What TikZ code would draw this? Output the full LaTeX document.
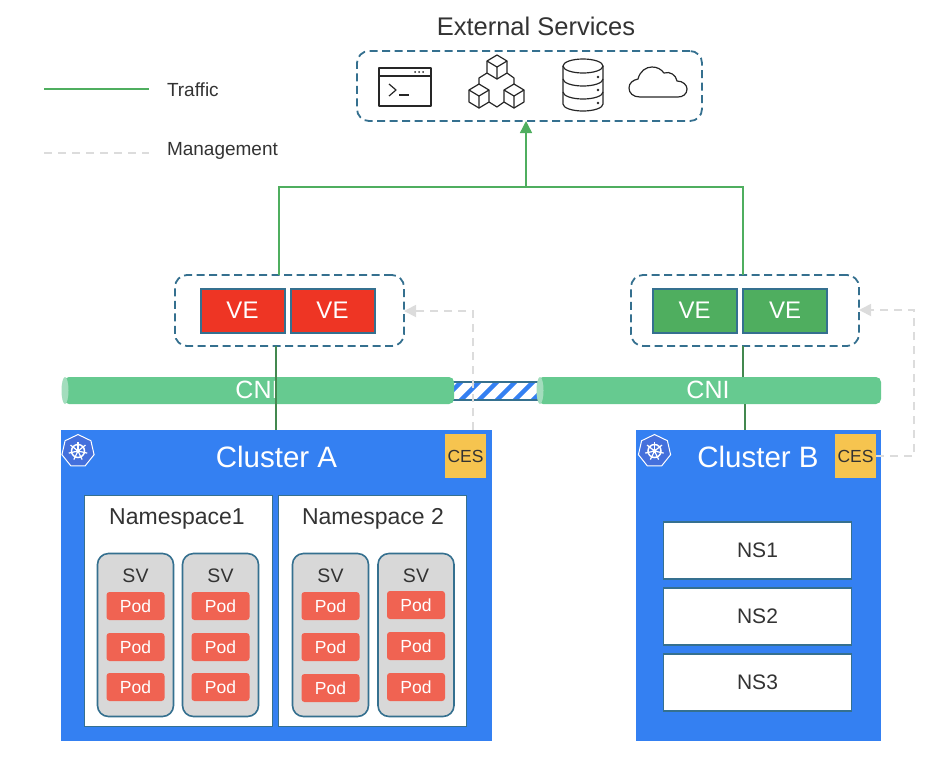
\documentclass[tikz,border=0pt]{standalone}
\usepackage{fontspec}
\setmainfont{Liberation Sans}
\usetikzlibrary{arrows.meta,shapes.geometric}
\definecolor{edgeblue}{HTML}{35708F}
\definecolor{clusterblue}{HTML}{3480F2}
\definecolor{kubeblue}{HTML}{4470DC}
\definecolor{trafficgreen}{HTML}{4FAE5F}
\definecolor{darkgreen}{HTML}{43884F}
\definecolor{cnigreen}{HTML}{66CA90}
\definecolor{capgreen}{HTML}{A3DDBD}
\definecolor{mgmtgrey}{HTML}{DCDCDC}
\definecolor{vered}{HTML}{EE3524}
\definecolor{podred}{HTML}{F06352}
\definecolor{cesyellow}{HTML}{F6C44F}
\definecolor{svgrey}{HTML}{D8D8D8}
\definecolor{textgrey}{HTML}{333333}
\tikzset{
	every node/.style={inner sep=0pt,outer sep=0pt,text=textgrey},
	groupbox/.style={draw=edgeblue,line width=1.8pt,dash pattern=on 8pt off 4.5pt,rounded corners=12pt},
	vebox/.style={draw=edgeblue,line width=2pt,minimum width=84pt,minimum height=44pt,text=white,font=\fontsize{24}{24}\selectfont},
	cluster/.style={fill=clusterblue,minimum height=311pt},
	clustertitle/.style={text=white,font=\fontsize{29.5}{30}\selectfont},
	cesbox/.style={fill=cesyellow,minimum width=41pt,minimum height=44pt,font=\fontsize{17.5}{18}\selectfont},
	nsbox/.style={fill=white,draw=edgeblue,line width=1.8pt,minimum width=188pt,font=\fontsize{21}{21}\selectfont},
	svbox/.style={fill=svgrey,draw=edgeblue,line width=1.6pt,rounded corners=11pt,minimum width=76pt,minimum height=163pt},
	podbox/.style={fill=podred,rounded corners=3pt,minimum width=58pt,minimum height=28pt,text=white,font=\fontsize{17.5}{18}\selectfont},
	cnibar/.style={fill=cnigreen,rounded corners=5pt,minimum height=27pt},
	cnicap/.style={fill=capgreen,shape=ellipse,minimum width=7pt,minimum height=27pt},
	traffic/.style={draw=trafficgreen,line width=1.4pt},
	mgmt/.style={draw=mgmtgrey,line width=1.8pt,dash pattern=on 8pt off 6pt},
	icon/.style={draw=black!85,line width=1.2pt,line join=round},
}
\newcommand{\cubeicon}[2]{% isometric cube
	\draw[icon] (#1,#2-12) -- (#1+10,#2-6) -- (#1+10,#2+6) -- (#1,#2+12) -- (#1-10,#2+6) -- (#1-10,#2-6) -- cycle;
	\draw[icon] (#1-10,#2-6) -- (#1,#2) -- (#1+10,#2-6) (#1,#2) -- (#1,#2+12);
}
\newcommand{\kubeicon}[3]{% wheel on a heptagon
	\node[regular polygon,regular polygon sides=7,draw=white,line width=1pt,fill=kubeblue,minimum size=33pt] (#1) at (#2,#3) {};
	\draw[white,line width=1.5pt] (#1.center) circle (6.5pt);
	\fill[white] (#1.center) circle (2pt);
	\foreach \a in {90,141.4,...,400} {\draw[white,line width=1.2pt] (#1.center) -- +(\a:9.5pt);}
}

\begin{document}
\begin{tikzpicture}[x=1pt,y=-1pt]
	\useasboundingbox (0,0) rectangle (928,764);

	% legend
	\coordinate (trafficA) at (44,89);
	\coordinate (trafficB) at (149,89);
	\coordinate (mgmtA) at (44,153);
	\coordinate (mgmtB) at (149,153);
	\draw[traffic] (trafficA) -- (trafficB);
	\draw[mgmt] (mgmtA) -- (mgmtB);
	\node[anchor=west,font=\fontsize{19}{19}\selectfont] (trafficlabel) at (167,90) {Traffic};
	\node[anchor=west,font=\fontsize{19}{19}\selectfont] (mgmtlabel) at (167,151) {Management};

	% external services
	\node[font=\fontsize{25.5}{26}\selectfont] (exttitle) at (536,26) {External Services};
	\node[groupbox,minimum width=345pt,minimum height=70pt] (ext) at (529.5,86) {};
	\draw[icon] (379,68) rectangle (431,106);% terminal
	\draw[icon] (379,76) -- (431,76);
	\foreach \x in {415,419,423} {\fill[black!85] (\x,72) circle (1pt);}
	\draw[icon] (389,84) -- (396,90) -- (389,96);
	\draw[icon] (399,95) -- (409,95);
	\cubeicon{497}{67}% cubes
	\cubeicon{479}{96}
	\cubeicon{514}{96}
	\draw[icon] (487,73) -- (479,78) -- (479,84);
	\draw[icon] (507,73) -- (514,78) -- (514,84);
	\draw[icon] (489,102) -- (497,107) -- (504,102);
	\draw[icon] (563,66) -- (563,104) arc[start angle=180,end angle=0,x radius=20,y radius=7] -- (603,66);% database
	\draw[icon] (583,66) ellipse[x radius=20,y radius=7];
	\draw[icon] (563,79) arc[start angle=180,end angle=0,x radius=20,y radius=7];
	\draw[icon] (563,92) arc[start angle=180,end angle=0,x radius=20,y radius=7];
	\foreach \y in {77,90,103} {\fill[black!85] (598,\y) circle (1.3pt);}
	\draw[icon] (640,97) .. controls (633,97) and (629,93) .. (629,88)
		.. controls (629,83) and (633,80) .. (638,79)
		.. controls (640,71) and (646,67) .. (652,67)
		.. controls (657,67) and (661,69) .. (664,73)
		.. controls (670,71) and (676,75) .. (677,81)
		.. controls (683,81) and (687,85) .. (687,89)
		.. controls (687,94) and (683,97) .. (678,97) -- cycle;% cloud

	% gateways
	\node[groupbox,minimum width=229pt,minimum height=71pt] (groupA) at (289.5,310.5) {};
	\node[groupbox,minimum width=228pt,minimum height=71pt] (groupB) at (745,310.5) {};
	\node[vebox,fill=vered] (veA1) at (242.5,310.5) {VE};
	\node[vebox,fill=vered] (veA2) at (332.5,310.5) {VE};
	\node[vebox,fill=trafficgreen] (veB1) at (694.5,310.5) {VE};
	\node[vebox,fill=trafficgreen] (veB2) at (785,310.5) {VE};

	% cni link
	\node[minimum width=86pt,minimum height=18pt] (link) at (495,391) {};
	\begin{scope}
		\clip (link.south west) rectangle (link.north east);
		\foreach \x in {420,438,...,560} {\draw[clusterblue,line width=4.5pt] (\x,405) -- (\x+28,377);}
	\end{scope}
	\draw[edgeblue,line width=1.5pt] (link.north west) -- (link.north east) (link.south west) -- (link.south east);

	% cni bars
	\node[cnibar,minimum width=390pt] (cniA) at (259,390.5) {};
	\node[cnibar,minimum width=343pt] (cniB) at (709.5,390.5) {};
	\node[cnicap] (capA) at (65,390.5) {};
	\node[cnicap] (capB) at (540,390.5) {};
	\node[text=white,font=\fontsize{25}{25}\selectfont] (cniAlabel) at (257,390) {CNI};
	\node[text=white,font=\fontsize{25}{25}\selectfont] (cniBlabel) at (708,390) {CNI};

	% clusters
	\node[cluster,minimum width=431pt] (clusterA) at (276.5,585.5) {};
	\node[cluster,minimum width=245pt] (clusterB) at (758.5,585.5) {};
	\node[clustertitle] (titleA) at (276.5,457) {Cluster A};
	\node[clustertitle] (titleB) at (758,457) {Cluster B};
	\kubeicon{kubeA}{78}{451}
	\kubeicon{kubeB}{654.5}{451}
	\node[cesbox] (cesA) at (465.5,456) {CES};
	\node[cesbox] (cesB) at (855.5,456) {CES};

	% cluster A namespaces
	\node[nsbox,minimum height=231pt] (nsA) at (178.5,611) {};
	\node[nsbox,minimum height=231pt] (nsB) at (372.5,611) {};
	\node[font=\fontsize{23}{23}\selectfont] (nsAlabel) at (177,519) {Namespace1};
	\node[font=\fontsize{23}{23}\selectfont] (nsBlabel) at (373,519) {Namespace 2};
	\foreach \name/\x/\pa/\pb/\pc in {a/135.5/606/647/687,b/220.5/606/647/687,c/330.5/606/647/688,d/416/605/646/687} {
		\node[svbox] (sv\name) at (\x,635) {};
		\node[font=\fontsize{19.5}{20}\selectfont] (sv\name label) at (\x,576) {SV};
		\node[podbox] (pod\name 1) at (\x,\pa) {Pod};
		\node[podbox] (pod\name 2) at (\x,\pb) {Pod};
		\node[podbox] (pod\name 3) at (\x,\pc) {Pod};
	}

	% cluster B namespaces
	\node[nsbox,minimum height=57pt] (ns1) at (757.5,550.5) {NS1};
	\node[nsbox,minimum height=57pt] (ns2) at (757.5,616.5) {NS2};
	\node[nsbox,minimum height=57pt] (ns3) at (757.5,682.5) {NS3};

	% traffic
	\coordinate (trunkA) at (279,187);
	\coordinate (trunkB) at (743,187);
	\coordinate (trunkM) at (526,187);
	\draw[traffic] (trunkA |- groupA.north) -- (trunkA) -- (trunkB) -- (trunkB |- groupB.north);
	\draw[traffic,-{Triangle[length=12pt,width=12pt]}] (trunkM) -- (trunkM |- ext.south);
	\coordinate (dropA) at (276,0);
	\coordinate (dropB) at (743,0);
	\coordinate (dropC) at (745,0);
	\draw[draw=darkgreen,line width=1.4pt] (dropA |- groupA.south) -- (dropA |- clusterA.north);
	\draw[draw=darkgreen,line width=1.4pt] (dropB |- groupB.south) -- (dropB |- cniB.north);
	\draw[draw=darkgreen,line width=1.4pt] (dropC |- cniB.south) -- (dropC |- clusterB.north);

	% management
	\coordinate (mgmtAup) at (473,311);
	\coordinate (mgmtBup) at (914,310);
	\draw[mgmt,-{Triangle[length=12pt,width=12pt]}] (mgmtAup |- clusterA.north) -- (mgmtAup) -- (groupA.east |- mgmtAup);
	\draw[mgmt,-{Triangle[length=12pt,width=12pt]}] (cesB.east) -- (mgmtBup |- cesB.east) -- (mgmtBup) -- (groupB.east |- mgmtBup);
\end{tikzpicture}
\end{document}
